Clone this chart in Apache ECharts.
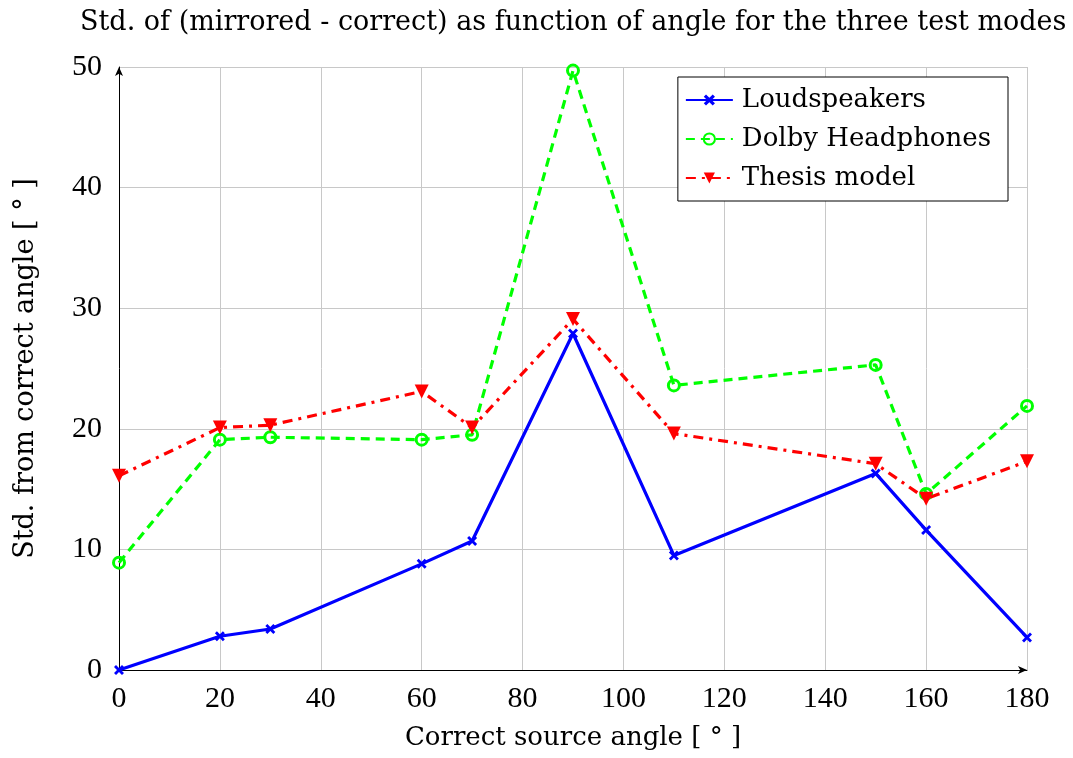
<!DOCTYPE html>
<html>
<head>
<meta charset="utf-8">
<script src="https://cdn.jsdelivr.net/npm/echarts@6/dist/echarts.min.js"></script>
<style>
  html, body { margin: 0; padding: 0; background: #fff; }
  #chart { width: 1073px; height: 758px; }
</style>
</head>
<body>
<div id="chart"></div>
<script>
// 数据
const angles = [0, 20, 30, 60, 70, 90, 110, 150, 160, 180];
const loudspeakers = [0, 2.8, 3.4, 8.8, 10.7, 27.9, 9.5, 16.3, 11.6, 2.7];
const dolby = [8.9, 19.1, 19.3, 19.1, 19.5, 49.7, 23.6, 25.3, 14.6, 21.9];
const thesis = [16.1, 20.1, 20.3, 23.1, 20.1, 29.1, 19.6, 17.1, 14.2, 17.3];
const xTicks = [0, 20, 40, 60, 80, 100, 120, 140, 160, 180];
const yTicks = [0, 10, 20, 30, 40, 50];

const font = "DejaVu Serif";      // 文字
const numFont = "Liberation Serif"; // 刻度数字
const pair = (ys) => angles.map((x, i) => [x, ys[i]]);
const crossPath = 'path://M2,0L5,3L8,0L10,2L7,5L10,8L8,10L5,7L2,10L0,8L3,5L0,2Z';

let chart = echarts.init(document.getElementById('chart'));
let option = {
    animation: false,
    textStyle: { fontFamily: font, color: '#000' },
    title: {
        text: 'Std. of (mirrored - correct) as function of angle for the three test modes',
        left: 75,
        top: 4,
        textStyle: { fontFamily: font, fontSize: 27, fontWeight: 'normal', color: '#000' }
    },
    grid: { left: 119, right: 46, top: 67, bottom: 88 },
    legend: {
        orient: 'vertical',
        right: 65,
        top: 77,
        itemWidth: 47,
        itemHeight: 14,
        itemGap: 13,
        padding: [10, 17, 10, 7],
        borderColor: '#000',
        borderWidth: 1,
        borderRadius: 0,
        backgroundColor: '#fff',
        textStyle: { fontFamily: font, fontSize: 26, color: '#000', padding: [0, 0, 0, 4] },
        data: ['Loudspeakers', 'Dolby Headphones', 'Thesis model']
    },
    xAxis: {
        type: 'value',
        min: 0, max: 180, interval: 20,
        name: 'Correct source angle [ ° ]',
        nameLocation: 'middle',
        nameGap: 55,
        nameTextStyle: { fontFamily: font, fontSize: 26, color: '#000' },
        axisLine: { lineStyle: { color: '#000', width: 1 }, symbol: ['none', 'arrow'], symbolSize: [6, 9] },
        axisTick: { show: false },
        axisLabel: {
            fontFamily: numFont, fontSize: 30, color: '#000', margin: 14,
            customValues: xTicks
        },
        splitLine: { show: true, lineStyle: { color: '#c8c8c8', width: 1 } }
    },
    yAxis: {
        type: 'value',
        min: 0, max: 50, interval: 10,
        name: 'Std. from correct angle [ ° ]',
        nameLocation: 'middle',
        nameGap: 80,
        nameRotate: 90,
        nameTextStyle: { fontFamily: font, fontSize: 27, color: '#000' },
        axisLine: { show: true, lineStyle: { color: '#000', width: 1 }, symbol: ['none', 'arrow'], symbolSize: [6, 9] },
        axisTick: { show: false },
        axisLabel: {
            fontFamily: numFont, fontSize: 30, color: '#000', margin: 17,
            customValues: yTicks
        },
        splitLine: { show: true, lineStyle: { color: '#c8c8c8', width: 1 } }
    },
    series: [
        {
            name: 'Loudspeakers',
            type: 'line',
            data: pair(loudspeakers),
            symbol: crossPath,
            symbolSize: 10,
            z: 2,
            lineStyle: { color: '#0000ff', width: 3.2 },
            itemStyle: { color: '#0000ff' }
        },
        {
            name: 'Dolby Headphones',
            type: 'line',
            data: pair(dolby),
            symbol: 'circle',
            symbolSize: 11,
            z: 3,
            lineStyle: { color: '#00ff00', width: 3.2, type: [9, 6] },
            itemStyle: { color: 'rgba(0,0,0,0)', borderColor: '#00ff00', borderWidth: 3 }
        },
        {
            name: 'Thesis model',
            type: 'line',
            data: pair(thesis),
            symbol: 'triangle',
            symbolRotate: 180,
            symbolSize: 14,
            z: 4,
            lineStyle: { color: '#ff0000', width: 3.2, type: [10, 6, 3, 6] },
            itemStyle: { color: '#ff0000' }
        }
    ]
};
option && chart.setOption(option);
</script>
</body>
</html>
